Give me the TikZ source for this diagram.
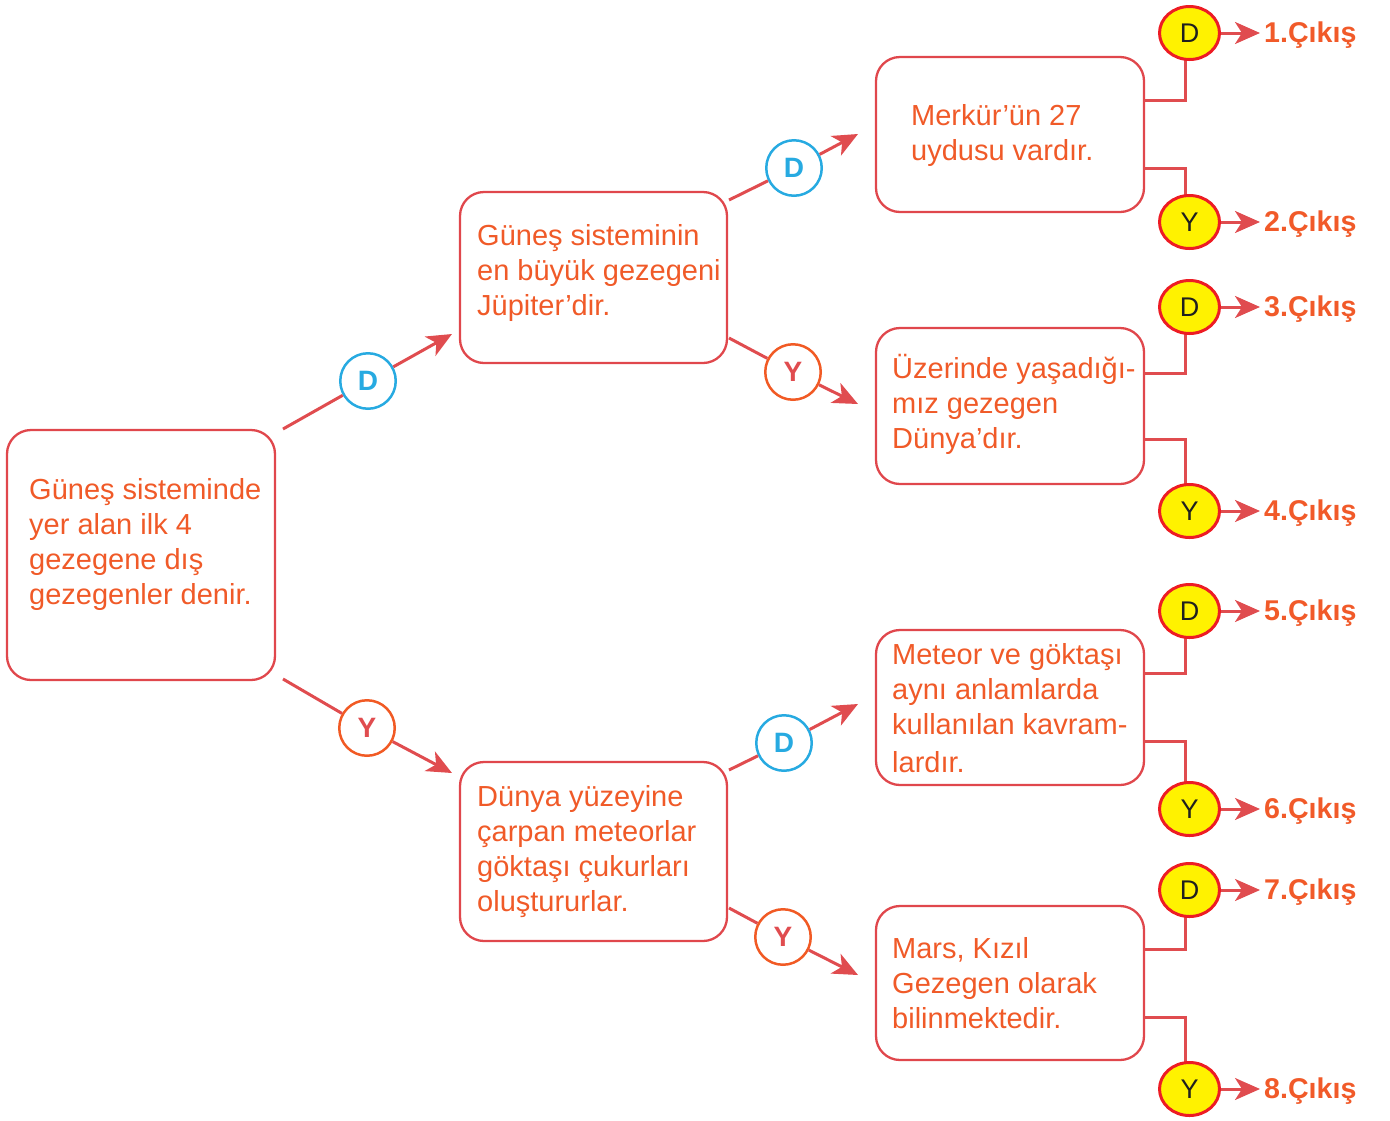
\documentclass[tikz,border=0pt]{standalone}
\usepackage{fontspec}
\setmainfont{Liberation Sans}
\usetikzlibrary{arrows.meta,shapes.geometric}
\definecolor{txt}{HTML}{F05A28}
\definecolor{boxred}{HTML}{E0474C}
\definecolor{linered}{HTML}{E04C4F}
\definecolor{blueC}{HTML}{27AAE1}
\definecolor{orangeC}{HTML}{F15A24}
\definecolor{yred}{HTML}{ED1C24}
\definecolor{yfill}{HTML}{FFF200}
\definecolor{exitC}{HTML}{F15A29}
\begin{document}
\begin{tikzpicture}[x=1pt,y=-1pt,
  box/.style={draw=boxred, line width=2.3pt, rounded corners=24pt, minimum width=#1, inner sep=0pt},
  btxt/.style={text=txt, font=\fontsize{29}{35}\selectfont, align=left, anchor=base west, inner sep=0pt},
  conn/.style={draw=linered, line width=3pt},
  arr/.style={conn, -{Stealth[length=25pt,width=22pt,inset=7pt]}},
  earr/.style={conn, -{Stealth[length=25pt,width=22pt,inset=7pt]}},
  dc/.style={circle, draw=blueC, line width=2.5pt, minimum size=55.5pt, inner sep=0pt, text=blueC, font=\fontsize{28}{30}\selectfont\bfseries},
  yc/.style={circle, draw=orangeC, line width=2.5pt, minimum size=55.5pt, inner sep=0pt, text=linered, font=\fontsize{28}{30}\selectfont\bfseries},
  ye/.style={ellipse, draw=yred, fill=yfill, line width=3pt, minimum width=60pt, minimum height=53pt, inner sep=0pt, font=\fontsize{27}{30}\selectfont, text=black!88},
  exitlbl/.style={anchor=base west, text=exitC, font=\fontsize{28.6}{30}\selectfont\bfseries, inner sep=0pt}
]
\useasboundingbox (0,0) rectangle (1390,1120);

% boxes
\node[box=268pt, minimum height=250pt] (b1) at (141,555) {};
\node[box=267pt, minimum height=171pt] (b2) at (593.5,277.5) {};
\node[box=267pt, minimum height=179pt] (b3) at (593.5,851.5) {};
\node[box=268pt, minimum height=155pt] (b4) at (1010,134.5) {};
\node[box=268pt, minimum height=156pt] (b5) at (1010,406) {};
\node[box=268pt, minimum height=155pt] (b6) at (1010,707.5) {};
\node[box=268pt, minimum height=154pt] (b7) at (1010,983) {};

% box texts (anchor = baseline of the last line)
\node[btxt] (t1) at (29,604) {Güneş sisteminde\\yer alan ilk 4\\gezegene dış\\gezegenler denir.};
\node[btxt] (t2) at (477,315) {Güneş sisteminin\\en büyük gezegeni\\Jüpiter’dir.};
\node[btxt] (t3) at (477,911) {Dünya yüzeyine\\çarpan meteorlar\\göktaşı çukurları\\oluştururlar.};
\node[btxt] (t4) at (911,160) {Merkür’ün 27\\uydusu vardır.};
\node[btxt] (t5) at (892,448) {Üzerinde yaşadığı-\\mız gezegen\\Dünya’dır.};
\node[btxt] (t6) at (892,772) {Meteor ve göktaşı\\aynı anlamlarda\\kullanılan kavram-\\[3pt]lardır.};
\node[btxt] (t7) at (892,1028) {Mars, Kızıl\\Gezegen olarak\\bilinmektedir.};

% decision circles
\node[dc] (c1) at (368,381) {D};
\node[yc] (c2) at (367,728) {Y};
\node[dc] (c3) at (794,168) {D};
\node[yc] (c4) at (793,372) {Y};
\node[dc] (c5) at (784,743) {D};
\node[yc] (c6) at (783,937) {Y};

\coordinate (s1) at (283,429); \coordinate (e1) at (452,334);
\coordinate (s2) at (283,679); \coordinate (e2) at (452,773);
\coordinate (s3) at (729,200); \coordinate (e3) at (858,134);
\coordinate (s4) at (729,338); \coordinate (e4) at (858,404);
\coordinate (s5) at (729,770); \coordinate (e5) at (858,704);
\coordinate (s6) at (729,908); \coordinate (e6) at (858,975);

\draw[conn] (s1) -- (c1); \draw[arr] (c1) -- (e1);
\draw[conn] (s2) -- (c2); \draw[arr] (c2) -- (e2);
\draw[conn] (s3) -- (c3); \draw[arr] (c3) -- (e3);
\draw[conn] (s4) -- (c4); \draw[arr] (c4) -- (e4);
\draw[conn] (s5) -- (c5); \draw[arr] (c5) -- (e5);
\draw[conn] (s6) -- (c6); \draw[arr] (c6) -- (e6);

% exits
\coordinate (p1) at (1144,100);  \coordinate (q1) at (1144,168);
\coordinate (p2) at (1144,373);  \coordinate (q2) at (1144,439);
\coordinate (p3) at (1144,673);  \coordinate (q3) at (1144,741);
\coordinate (p4) at (1144,949);  \coordinate (q4) at (1144,1017);

\draw[conn] (p1) -| (1185,60);
\draw[conn] (q1) -| (1185,200);
\draw[conn] (p2) -| (1185,330);
\draw[conn] (q2) -| (1185,490);
\draw[conn] (p3) -| (1185,635);
\draw[conn] (q3) -| (1185,785);
\draw[conn] (p4) -| (1185,915);
\draw[conn] (q4) -| (1185,1065);

\node[ye] (y1) at (1189.5,33) {D};
\node[ye] (y2) at (1189.5,222) {Y};
\node[ye] (y3) at (1189.5,307) {D};
\node[ye] (y4) at (1189.5,511) {Y};
\node[ye] (y5) at (1189.5,611) {D};
\node[ye] (y6) at (1189.5,809) {Y};
\node[ye] (y7) at (1189.5,890) {D};
\node[ye] (y8) at (1189.5,1089) {Y};

\foreach \i/\y/\n in {1/33/1,2/222/2,3/307/3,4/511/4,5/611/5,6/809/6,7/890/7,8/1089/8}{
  \coordinate (o\i) at (1260,\y);
  \draw[earr] (y\i) -- (o\i);
  \node[exitlbl] (x\i) at (1264,\y+9) {\n.Çıkış};
}
\end{tikzpicture}
\end{document}
